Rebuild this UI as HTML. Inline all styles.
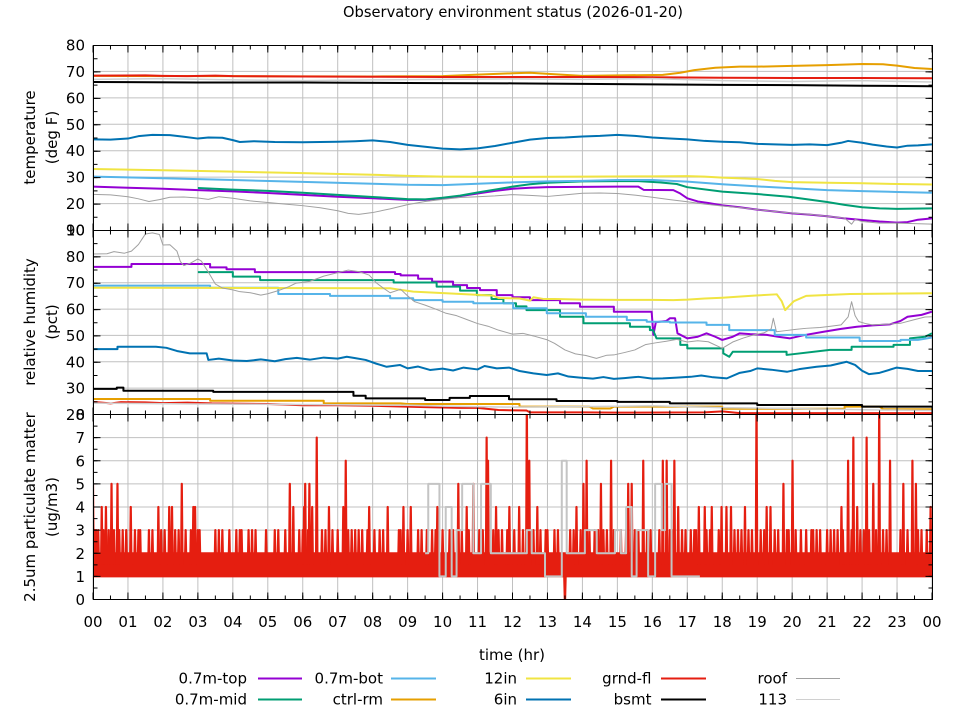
<!DOCTYPE html>
<html><head><meta charset="utf-8"><style>
html,body{margin:0;padding:0;background:#fff;}
svg{display:block;font-family:"DejaVu Sans","Liberation Sans",sans-serif;}
.d polyline,.d path,.d polygon{vector-effect:non-scaling-stroke;stroke-linejoin:round;}
.d polyline,.d path{fill:none;}
</style></head><body>
<svg width="960" height="720" viewBox="0 0 960 720" xmlns="http://www.w3.org/2000/svg">
<defs>
<clipPath id="c1"><rect x="93" y="45" width="840" height="185.5"/></clipPath>
<clipPath id="c2"><rect x="93" y="230" width="840" height="184.5"/></clipPath>
<clipPath id="c3"><rect x="93" y="414.5" width="840" height="185.5"/></clipPath>
</defs>
<rect width="960" height="720" fill="#fff"/>

<!-- grid -->
<g stroke="#c0c0c0" stroke-width="1" fill="none">
<line x1="92.5" y1="322.25" x2="933" y2="322.25" stroke-width="554.5" stroke-dasharray="1 33.9583"/>
<line x1="93" y1="71.43" x2="933" y2="71.43"/>
<line x1="93" y1="97.86" x2="933" y2="97.86"/>
<line x1="93" y1="124.29" x2="933" y2="124.29"/>
<line x1="93" y1="150.71" x2="933" y2="150.71"/>
<line x1="93" y1="177.14" x2="933" y2="177.14"/>
<line x1="93" y1="203.57" x2="933" y2="203.57"/>
<line x1="93" y1="256.36" x2="933" y2="256.36"/>
<line x1="93" y1="282.71" x2="933" y2="282.71"/>
<line x1="93" y1="309.07" x2="933" y2="309.07"/>
<line x1="93" y1="335.43" x2="933" y2="335.43"/>
<line x1="93" y1="361.79" x2="933" y2="361.79"/>
<line x1="93" y1="388.14" x2="933" y2="388.14"/>
<line x1="93" y1="437.63" x2="933" y2="437.63"/>
<line x1="93" y1="460.75" x2="933" y2="460.75"/>
<line x1="93" y1="483.88" x2="933" y2="483.88"/>
<line x1="93" y1="507" x2="933" y2="507"/>
<line x1="93" y1="530.13" x2="933" y2="530.13"/>
<line x1="93" y1="553.25" x2="933" y2="553.25"/>
<line x1="93" y1="576.38" x2="933" y2="576.38"/>
</g>

<!-- TOP PANEL: temperature -->
<g clip-path="url(#c1)">
<g class="d" transform="matrix(34.9583 0 0 -2.64286 93 256.429)" stroke-width="2">
<polyline stroke="#9400d3" points="0,26.4 1,26 2,25.6 3,25.1 4,24.6 5,24 6,23.3 7,22.6 8,22 9,21.4 9.5,21.4 10,22 10.5,22.8 11,23.8 11.5,24.8 12,25.6 12.5,26 13,26.2 14,26.3 15,26.4 15.6,26.4 15.75,25.2 16.6,25.1 16.8,23.8 17,22 17.3,20.8 17.6,20.2 18,19.3 18.5,18.6 19,17.7 19.5,17 20,16.3 20.5,15.8 21,15.2 21.5,14.4 22,13.8 22.5,13.2 23,12.8 23.3,13 23.6,13.9 24,14.4"/>
<polyline stroke="#009e73" points="3,25.9 4,25.3 5,24.8 6,24.1 7,23.3 8,22.5 9,21.7 9.5,21.6 10,22.2 10.5,23 11,24.2 11.5,25.3 12,26.4 12.5,27.3 13,27.9 14,28.4 15,28.5 15.6,28.5 16.2,28 16.7,27.4 17,26.2 18,24.5 19,23.6 19.9,22.6 20.5,21.5 21,20.6 21.5,19.5 22,18.6 22.5,18.2 23,18 24,18.2"/>
<polyline stroke="#56b4e9" points="0,30.2 2,29.6 4,28.9 6,28.2 8,27.5 9,27.1 10,27 11,27.5 12,28 13,28.4 14,28.6 15,28.9 16,28.9 17,28.3 18,27.3 19,26.5 20,25.8 21,25.1 22,24.7 23,24.4 24,24.1"/>
<polyline stroke="#e69f00" points="0,68.3 4,68.2 8,68.1 10,68.2 11,68.8 12,69.3 12.5,69.5 13.5,68.7 14,68.3 15,68.5 16.3,68.7 16.8,69.5 17.2,70.5 17.8,71.4 18.5,71.8 19,71.8 20,72.1 21,72.4 22,72.8 22.6,72.7 23,72.2 23.5,71.3 24,70.9"/>
<polyline stroke="#f0e442" points="0,33.1 2,32.6 4,32.1 6,31.5 8,30.9 9,30.5 10,30.2 12,30.1 14,30.2 16,30.3 17,30.4 17.5,30.2 18,29.8 19,29.3 19.5,28.6 20,28.1 21,27.9 22,27.7 23,27.4 24,27.2"/>
<polyline stroke="#0072b2" points="0,44.3 0.5,44.2 1,44.6 1.3,45.5 1.7,46 2.2,45.9 2.6,45.3 3,44.6 3.3,45 3.7,44.9 4,44 4.2,43.3 4.6,43.6 5.2,43.3 6,43.2 7,43.4 7.5,43.6 8,43.9 8.5,43.3 9,42.2 9.5,41.5 10,40.8 10.5,40.5 11,40.9 11.5,41.8 12,43 12.5,44.2 13,44.8 13.5,45 14,45.4 14.5,45.6 15,46 15.5,45.6 16,45 16.5,44.6 17,44.3 17.5,43.7 18,43.4 18.5,43.2 19,42.6 19.5,42.4 20,42.2 20.5,42.4 21,42.1 21.4,43 21.6,43.7 22,43 22.3,42.3 22.7,41.6 23,41.2 23.3,41.9 23.6,42 24,42.4"/>
<polyline stroke="#e51e10" points="0,68.4 1.5,68.5 2,68.3 2.7,68.2 3.5,68.4 4,68.2 6,68.1 8,68 10,67.9 12,67.9 14,67.9 16,67.8 18,67.6 20,67.5 22,67.5 24,67.4"/>
<polyline stroke="#000" points="0,66 3,65.8 6,65.8 9,65.6 12,65.5 15,65.2 17,65 18,64.9 20,64.8 22,64.6 24,64.4"/>
<polyline stroke="#a0a0a0" stroke-width="1" points="0,23.5 0.5,23.3 1,22.6 1.3,21.8 1.6,20.8 1.9,21.5 2.2,22.4 2.6,22.5 3,22.1 3.3,21.6 3.6,22.6 4,22 4.5,21 5,20.4 5.5,19.8 6,19.2 6.5,18.4 7,17.3 7.3,16.3 7.6,15.9 8,16.6 8.5,18 9,19.6 9.5,20.8 10,21.6 10.5,22.3 11,22.6 11.5,22.9 12,23.4 12.5,23.1 13,22.7 13.5,23.3 14,23.9 14.5,24 15,23.8 15.5,23.2 16,22.4 16.5,21.5 17,20.7 17.5,19.8 18,19.1 18.5,18.5 19,17.7 19.5,17 20,16.4 20.5,15.9 21,15.2 21.5,14.5 21.7,12.2 21.8,14 22,13.2 22.5,12.6 23,12.6 23.5,12.4 24,12.2"/>
<polyline stroke="#d0d0d0" stroke-width="1.5" points="0,67 2,67.3 4,66.8 6,66.5 8,66.8 10,67 12,67.2 14,67 16,67.3 18,66.5 20,66.2 22,66.5 24,66"/>
</g>
</g>

<!-- MIDDLE PANEL: humidity -->
<g clip-path="url(#c2)">
<g class="d" transform="matrix(34.9583 0 0 -2.63571 93 467.214)" stroke-width="2">
<polyline stroke="#9400d3" points="0,76 1.1,76 1.1,77.1 3.35,77.1 3.35,75.8 3.82,75.8 3.82,75.1 4.63,75.1 4.63,74 8.64,74 8.64,73.3 8.8,73.3 8.8,72.8 9.3,72.8 9.3,71.5 9.7,71.5 9.7,70.4 10.3,70.4 10.3,69.1 10.7,69.1 10.7,68 11.07,68 11.07,67.2 11.55,67.2 11.55,65.3 12,65.3 12,64.5 12.5,64.5 12.5,63.4 13.36,63.4 13.36,62.2 13.93,62.2 13.93,60.9 14.9,60.9 14.9,59 15.98,59 16.03,50.2 16.1,55 16.4,55.5 16.5,56.5 16.65,56.5 16.72,50.8 17,48.9 17.3,49.5 17.55,50.8 17.8,49.5 18,48.3 18.3,49.5 18.5,50.8 18.8,50.5 19.27,50.2 19.6,49.5 19.94,48.9 20.3,50 20.9,51.4 21.4,52.5 21.85,53.3 22.3,53.8 22.8,54.2 23.1,55.5 23.3,57.1 23.7,57.8 24,59"/>
<polyline stroke="#009e73" points="3,74 4,74 4,72.3 4.78,72.3 4.78,71 8.6,71 8.6,70.1 9.83,70.1 9.83,68.5 10.5,68.5 10.5,67 10.98,67 10.98,65.3 11.4,65.3 11.4,63.8 11.74,63.8 11.74,62.2 12.1,62.2 12.1,61 12.4,61 12.4,59.6 13.36,59.6 13.36,57.1 14.03,57.1 14.03,54.6 15.36,54.6 15.36,53.3 15.93,53.3 15.93,52 16.02,52 16.12,48.9 16.8,48.9 16.8,46.4 17,46.4 17,45.1 18.03,45.1 18.03,43.2 18.2,41.9 18.3,43.8 19.84,43.8 19.84,42.6 21.08,44.5 21.7,44.5 21.7,45.7 22.9,45.7 22.9,46.4 23.37,46.4 23.37,48.9 23.8,49.5 24,50.8"/>
<polyline stroke="#56b4e9" points="0,68.9 3.35,68.9 3.35,68.1 5.3,68.1 5.3,65.7 6.78,65.7 6.78,65 8.5,65 8.5,64.1 9.16,64.1 9.16,63.4 10,63.4 10,62.8 10.88,62.8 10.88,62.2 12.02,62.2 12.02,60.3 12.98,60.3 12.98,58.4 14.1,58.4 14.1,57.1 15.27,57.1 15.27,55.8 15.84,55.8 15.84,55.2 16.5,55.2 16.5,54.9 17.55,54.9 17.55,54 18.2,54 18.2,52 19.5,52 19.5,50.2 20.4,50.2 20.4,49.2 21.93,49.2 21.93,47.9 23.1,47.9 23.1,48.3 23.6,48.3 24,49.2"/>
<polyline stroke="#e69f00" points="0,25.9 3.35,25.9 3.35,25.2 6.6,25.2 6.6,24.2 8.8,24.2 9,24 12.2,24 12.2,23 14.2,23 14.3,22.3 14.8,22.3 14.9,23 18,23 18,22.2 21.5,22.2 21.5,23 22.5,23 22.6,22 24,22"/>
<polyline stroke="#f0e442" points="0,68.1 8.5,67.9 8.7,67.5 9.16,66.6 10.1,66 11.45,65.1 11.6,64.2 12.2,64 12.5,63.2 12.6,64.5 12.9,63.8 13.2,63.8 14,63.6 15,63.5 16,63.5 16.6,63.4 17,63.6 17.5,64 18,64.3 18.9,65.1 19.56,65.6 19.7,63 19.8,59.6 19.9,61 20.05,63 20.4,65 21.66,65.7 24,66"/>
<polyline stroke="#0072b2" points="0,44.8 0.7,44.8 0.7,45.7 1.8,45.7 2.1,45.3 2.4,44.1 2.77,43.2 3.25,43.2 3.3,40.7 3.6,41.2 4,40.5 4.4,40.3 4.8,40.9 5.2,40.2 5.5,41 5.83,41.5 6.2,40.8 6.6,41.6 7,41.2 7.26,41.9 7.5,41.4 7.8,40.7 8.1,39.3 8.4,38.1 8.78,38.8 9,37.5 9.3,38.2 9.64,36.9 10,37.4 10.3,36.7 10.6,37.8 11,37.1 11.2,38.4 11.55,37.5 11.9,37.8 12.2,36.5 12.6,35.6 12.98,35 13.3,35.6 13.6,34.4 13.93,34 14.3,33.6 14.6,34.2 14.9,33.5 15.2,33.8 15.6,34.3 16,33.6 16.3,33.7 16.7,34 17.1,34.3 17.4,34.8 17.7,34.2 18.13,33.7 18.5,35.8 18.8,36.5 19,37.5 19.4,37 19.85,36.2 20.2,37.2 20.7,38.1 21.1,38.6 21.56,40 21.8,38.8 22,36.6 22.2,35.3 22.5,35.8 22.99,37.8 23.3,37.3 23.6,36.5 24,36.5"/>
<polyline stroke="#e51e10" points="0,24.8 0.5,24.2 0.8,24.7 1.5,24.6 2,24.3 2.7,24.5 3.4,24.2 5,24 6,23.5 7,23.5 8,23.3 9.5,22.8 10.5,22.5 11,22.5 11.6,21.7 12.4,21.5 12.5,20.8 14,20.8 15,20.7 17.5,20.8 18,21.2 18.5,20.5 24,20.5"/>
<polyline stroke="#000" points="0,29.7 0.68,29.7 0.68,30.2 0.87,30.2 0.87,29 3.44,29 3.44,28.6 7.45,28.6 7.45,27.1 7.8,27.1 7.8,26.1 9.5,26.1 9.5,25.5 10.2,25.5 10.2,26.3 10.78,26.3 10.78,27 11.9,27 11.9,25.8 13.26,25.8 13.26,25.1 15,25.1 15,24.8 16.5,24.8 16.5,24.2 19,24.2 19,23.6 22,23.6 22,23 24,23"/>
<polyline stroke="#a0a0a0" stroke-width="1" points="0,80.9 0.4,81 0.6,81.8 0.9,81.2 1.1,82 1.3,84.5 1.5,88.5 1.7,88.9 1.9,88.3 2,84.3 2.2,84.4 2.4,82 2.5,78 2.6,76.5 2.8,77.5 3,79 3.1,78.2 3.3,74 3.5,69.5 3.7,68 4,67.3 4.2,66.6 4.5,66.2 4.8,65.3 5,65.8 5.3,67 5.6,68.5 5.8,69.8 6.2,70.5 6.6,72.5 7,73.8 7.3,74.8 7.6,74.2 7.9,72.9 8.1,70 8.3,68 8.5,66.2 8.8,67.5 9,65 9.2,62.8 9.5,61.5 9.8,60 10.1,58.4 10.4,57.5 10.7,56 11,54.5 11.3,53.5 11.6,52 12,50.5 12.3,50.8 12.6,49.8 13,48.3 13.2,47 13.5,44.5 13.8,43 14.1,42.4 14.4,41.3 14.7,42.5 14.9,42.6 15.2,43.5 15.5,44.5 15.8,46.5 16.1,47.2 16.4,47.8 16.7,48.5 17,47.5 17.3,48 17.6,47.6 18,45.1 18.3,47.5 18.6,49 18.9,50.2 19.2,51 19.4,52.5 19.46,56.5 19.55,51.4 19.8,51.8 20.1,52.3 20.4,52.7 20.8,53 21.1,53.5 21.4,54 21.6,57 21.7,62.8 21.8,57.5 21.9,55.3 22.1,54.5 22.3,54 22.6,54.2 23.1,54.6 23.5,56 23.8,57 24,57.1"/>
<polyline stroke="#d0d0d0" stroke-width="1.5" points="0,24.3 3,24 6,23.8 9,23.5 10,23.2 12,22.8 14,23 16,23.3 18,22.6 20,22.3 22,21.8 24,21.5"/>
</g>
</g>

<!-- BOTTOM PANEL: PM2.5 -->
<g clip-path="url(#c3)">
<g class="d" transform="matrix(34.9583 0 0 -23.125 93 599.5)">
<polygon fill="#e51e10" stroke="#e51e10" stroke-width="2" points="0,1 24,1 24,2 0,2"/>
<path stroke="#e51e10" stroke-width="2.2" d="M0.03 1.5L0.05 3L0.07 1.5M0.13 1.5L0.15 3L0.17 1.5M0.28 1.5L0.3 3L0.32 1.5M0.43 1.5L0.45 3L0.47 1.5M0.58 1.5L0.6 3L0.62 1.5M0.73 1.5L0.75 3L0.77 1.5M0.83 1.5L0.85 3L0.87 1.5M0.93 1.5L0.95 3L0.97 1.5M1.18 1.5L1.2 3L1.22 1.5M1.28 1.5L1.3 3L1.32 1.5M1.33 1.5L1.35 3L1.37 1.5M1.58 1.5L1.6 3L1.62 1.5M1.68 1.5L1.7 3L1.72 1.5M1.93 1.5L1.95 3L1.97 1.5M2.03 1.5L2.05 3L2.07 1.5M2.33 1.5L2.35 3L2.37 1.5M2.43 1.5L2.45 3L2.47 1.5M2.63 1.5L2.65 3L2.67 1.5M2.78 1.5L2.8 3L2.82 1.5M2.98 1.5L3 3L3.02 1.5M3.03 1.5L3.05 3L3.07 1.5M3.48 1.5L3.5 3L3.52 1.5M3.58 1.5L3.6 3L3.62 1.5M3.68 1.5L3.7 3L3.72 1.5M3.88 1.5L3.9 3L3.92 1.5M4.08 1.5L4.1 3L4.12 1.5M4.18 1.5L4.2 3L4.22 1.5M4.23 1.5L4.25 3L4.27 1.5M4.43 1.5L4.45 3L4.47 1.5M4.53 1.5L4.55 3L4.57 1.5M4.63 1.5L4.65 3L4.67 1.5M4.93 1.5L4.95 3L4.97 1.5M5.18 1.5L5.2 3L5.22 1.5M5.28 1.5L5.3 3L5.32 1.5M5.48 1.5L5.5 3L5.52 1.5M5.88 1.5L5.9 3L5.92 1.5M5.98 1.5L6 3L6.02 1.5M6.13 1.5L6.15 3L6.17 1.5M6.53 1.5L6.55 3L6.57 1.5M6.63 1.5L6.65 3L6.67 1.5M6.83 1.5L6.85 3L6.87 1.5M6.98 1.5L7 3L7.02 1.5M7.28 1.5L7.3 3L7.32 1.5M7.38 1.5L7.4 3L7.42 1.5M7.48 1.5L7.5 3L7.52 1.5M7.58 1.5L7.6 3L7.62 1.5M7.68 1.5L7.7 3L7.72 1.5M7.83 1.5L7.85 3L7.87 1.5M8.03 1.5L8.05 3L8.07 1.5M8.18 1.5L8.2 3L8.22 1.5M8.28 1.5L8.3 3L8.32 1.5M8.73 1.5L8.75 3L8.77 1.5M8.78 1.5L8.8 3L8.82 1.5M8.98 1.5L9 3L9.02 1.5M9.28 1.5L9.3 3L9.32 1.5M9.38 1.5L9.4 3L9.42 1.5M9.53 1.5L9.55 3L9.57 1.5M9.68 1.5L9.7 3L9.72 1.5M9.78 1.5L9.8 3L9.82 1.5M9.98 1.5L10 3L10.02 1.5M10.18 1.5L10.2 3L10.22 1.5M10.28 1.5L10.3 3L10.32 1.5M10.53 1.5L10.55 3L10.57 1.5M10.73 1.5L10.75 3L10.77 1.5M11.03 1.5L11.05 3L11.07 1.5M11.13 1.5L11.15 3L11.17 1.5M11.43 1.5L11.45 3L11.47 1.5M11.58 1.5L11.6 3L11.62 1.5M11.68 1.5L11.7 3L11.72 1.5M11.83 1.5L11.85 3L11.87 1.5M12.03 1.5L12.05 3L12.07 1.5M12.28 1.5L12.3 3L12.32 1.5M12.58 1.5L12.6 3L12.62 1.5M12.78 1.5L12.8 3L12.82 1.5M12.93 1.5L12.95 3L12.97 1.5M12.98 1.5L13 3L13.02 1.5M13.18 1.5L13.2 3L13.22 1.5M13.28 1.5L13.3 3L13.32 1.5M13.63 1.5L13.65 3L13.67 1.5M13.73 1.5L13.75 3L13.77 1.5M13.93 1.5L13.95 3L13.97 1.5M14.18 1.5L14.2 3L14.22 1.5M14.33 1.5L14.35 3L14.37 1.5M14.43 1.5L14.45 3L14.47 1.5M14.58 1.5L14.6 3L14.62 1.5M14.68 1.5L14.7 3L14.72 1.5M14.88 1.5L14.9 3L14.92 1.5M15.08 1.5L15.1 3L15.12 1.5M15.23 1.5L15.25 3L15.27 1.5M15.48 1.5L15.5 3L15.52 1.5M15.58 1.5L15.6 3L15.62 1.5M15.83 1.5L15.85 3L15.87 1.5M15.93 1.5L15.95 3L15.97 1.5M16.18 1.5L16.2 3L16.22 1.5M16.48 1.5L16.5 3L16.52 1.5M16.58 1.5L16.6 3L16.62 1.5M16.83 1.5L16.85 3L16.87 1.5M16.93 1.5L16.95 3L16.97 1.5M17.08 1.5L17.1 3L17.12 1.5M17.18 1.5L17.2 3L17.22 1.5M17.23 1.5L17.25 3L17.27 1.5M17.53 1.5L17.55 3L17.57 1.5M17.63 1.5L17.65 3L17.67 1.5M17.88 1.5L17.9 3L17.92 1.5M18.33 1.5L18.35 3L18.37 1.5M18.43 1.5L18.45 3L18.47 1.5M18.53 1.5L18.55 3L18.57 1.5M18.73 1.5L18.75 3L18.77 1.5M18.83 1.5L18.85 3L18.87 1.5M19.08 1.5L19.1 3L19.12 1.5M19.18 1.5L19.2 3L19.22 1.5M19.48 1.5L19.5 3L19.52 1.5M19.58 1.5L19.6 3L19.62 1.5M19.83 1.5L19.85 3L19.87 1.5M19.88 1.5L19.9 3L19.92 1.5M20.08 1.5L20.1 3L20.12 1.5M20.23 1.5L20.25 3L20.27 1.5M20.38 1.5L20.4 3L20.42 1.5M20.53 1.5L20.55 3L20.57 1.5M20.58 1.5L20.6 3L20.62 1.5M20.68 1.5L20.7 3L20.72 1.5M20.78 1.5L20.8 3L20.82 1.5M20.98 1.5L21 3L21.02 1.5M21.08 1.5L21.1 3L21.12 1.5M21.18 1.5L21.2 3L21.22 1.5M21.28 1.5L21.3 3L21.32 1.5M21.43 1.5L21.45 3L21.47 1.5M21.68 1.5L21.7 3L21.72 1.5M21.93 1.5L21.95 3L21.97 1.5M22.03 1.5L22.05 3L22.07 1.5M22.18 1.5L22.2 3L22.22 1.5M22.38 1.5L22.4 3L22.42 1.5M22.58 1.5L22.6 3L22.62 1.5M22.68 1.5L22.7 3L22.72 1.5M23.08 1.5L23.1 3L23.12 1.5M23.28 1.5L23.3 3L23.32 1.5M23.58 1.5L23.6 3L23.62 1.5M23.68 1.5L23.7 3L23.72 1.5M23.83 1.5L23.85 3L23.87 1.5"/>
<path stroke="#e51e10" stroke-width="2.2" d="M0 1.5L0 5L0.02 1.5M0.07 1.5L0.09 3L0.11 1.5M0.23 1.5L0.25 4L0.27 1.5M0.35 1.5L0.37 4L0.39 1.5M0.51 1.5L0.53 5L0.55 1.5M0.68 1.5L0.7 5L0.72 1.5M1.06 1.5L1.08 4L1.1 1.5M1.85 1.5L1.87 4L1.89 1.5M2.16 1.5L2.18 4L2.2 1.5M2.24 1.5L2.26 4L2.28 1.5M2.52 1.5L2.54 5L2.56 1.5M2.85 1.5L2.87 4L2.89 1.5M2.9 1.5L2.92 4L2.94 1.5M5.61 1.5L5.63 5L5.65 1.5M5.71 1.5L5.73 4L5.75 1.5M6.02 1.5L6.04 4L6.06 1.5M6.05 1.5L6.07 5L6.09 1.5M6.17 1.5L6.19 5L6.21 1.5M6.25 1.5L6.27 4L6.29 1.5M6.38 1.5L6.4 7L6.42 1.5M6.73 1.5L6.75 4L6.77 1.5M7.14 1.5L7.16 4L7.18 1.5M7.21 1.5L7.23 6L7.25 1.5M7.88 1.5L7.9 4L7.92 1.5M8.41 1.5L8.43 4L8.45 1.5M8.86 1.5L8.88 4L8.9 1.5M9.07 1.5L9.09 4L9.11 1.5M9.83 1.5L9.85 4L9.87 1.5M10.43 1.5L10.45 5L10.47 1.5M10.67 1.5L10.69 4L10.71 1.5M10.86 1.5L10.88 5L10.9 1.5M11.24 1.5L11.26 7L11.28 1.5M11.28 1.5L11.3 6L11.32 1.5M11.51 1.5L11.53 4L11.55 1.5M11.89 1.5L11.91 4L11.93 1.5M12.17 1.5L12.19 4L12.21 1.5M12.39 1.5L12.41 8.6L12.43 1.5M12.46 1.5L12.48 6L12.5 1.5M12.69 1.5L12.71 4L12.73 1.5M13.48 1L13.5 -0.2L13.52 1M13.81 1.5L13.83 4L13.85 1.5M14.01 1.5L14.03 5L14.05 1.5M14.1 1.5L14.12 6L14.14 1.5M14.51 1.5L14.53 5L14.55 1.5M14.8 1.5L14.82 6L14.84 1.5M15.29 1.5L15.31 5L15.33 1.5M15.39 1.5L15.41 5L15.43 1.5M15.72 1.5L15.74 6L15.76 1.5M16.28 1.5L16.3 6L16.32 1.5M16.39 1.5L16.41 6L16.43 1.5M16.61 1.5L16.63 6L16.65 1.5M16.72 1.5L16.74 4L16.76 1.5M17.31 1.5L17.33 4L17.35 1.5M17.48 1.5L17.5 4L17.52 1.5M17.68 1.5L17.7 4L17.72 1.5M17.96 1.5L17.98 4L18 1.5M18.1 1.5L18.12 4L18.14 1.5M18.23 1.5L18.25 4L18.27 1.5M18.63 1.5L18.65 4L18.67 1.5M18.96 1.5L18.98 8.6L19 1.5M19.25 1.5L19.27 4L19.29 1.5M19.36 1.5L19.38 4L19.4 1.5M19.73 1.5L19.75 5L19.77 1.5M19.99 1.5L20.01 6L20.03 1.5M21.39 1.5L21.41 4L21.43 1.5M21.58 1.5L21.6 6L21.62 1.5M21.73 1.5L21.75 7L21.77 1.5M21.84 1.5L21.86 4L21.88 1.5M22.11 1.5L22.13 7L22.15 1.5M22.3 1.5L22.32 5L22.34 1.5M22.47 1.5L22.49 8.6L22.51 1.5M22.78 1.5L22.8 6L22.82 1.5M23.16 1.5L23.18 5L23.2 1.5M23.42 1.5L23.44 6L23.46 1.5M23.52 1.5L23.54 5L23.56 1.5M23.94 1.5L23.96 4L23.98 1.5"/>
<polyline stroke="#c4c4c4" stroke-width="2" points="9.5,2 9.59,2 9.59,5 9.91,5 9.91,1 10.09,1 10.09,4 10.26,4 10.26,1 10.4,1 10.4,3 10.56,3 10.56,5 10.88,5 10.88,2 11.1,2 11.1,5 11.38,5 11.38,2 12.41,2 12.41,3 12.55,3 12.55,2 12.93,2 12.93,1 13.41,1 13.41,6 13.55,6 13.55,2 14.07,2 14.07,3 14.41,3 14.41,2 14.93,2 14.93,3 15.1,3 15.1,2 15.25,2 15.25,4 15.41,4 15.41,1 15.55,1 15.55,3 15.88,3 15.88,1 16.08,1 16.08,5 16.27,5 16.27,3 16.36,3 16.36,5 16.55,5 16.55,1 17.36,1"/>
</g>
</g>

<!-- frame -->
<g stroke="#000" stroke-width="1" fill="none">
<rect x="93.5" y="45.5" width="839" height="554"/>
<line x1="93" y1="230.5" x2="933" y2="230.5"/>
<line x1="93" y1="414.5" x2="933" y2="414.5"/>
</g>

<!-- ticks -->
<g stroke="#000" fill="none">
<line x1="92.5" y1="49" x2="933.5" y2="49" stroke-width="7" stroke-dasharray="1 33.9583"/>
<line x1="92.5" y1="47.5" x2="933.5" y2="47.5" stroke-width="4" stroke-dasharray="1 16.4792"/>
<line x1="92.5" y1="230.5" x2="933.5" y2="230.5" stroke-width="14" stroke-dasharray="1 33.9583"/>
<line x1="92.5" y1="230.5" x2="933.5" y2="230.5" stroke-width="8" stroke-dasharray="1 16.4792"/>
<line x1="92.5" y1="414.5" x2="933.5" y2="414.5" stroke-width="14" stroke-dasharray="1 33.9583"/>
<line x1="92.5" y1="414.5" x2="933.5" y2="414.5" stroke-width="8" stroke-dasharray="1 16.4792"/>
<line x1="92.5" y1="596" x2="933.5" y2="596" stroke-width="7" stroke-dasharray="1 33.9583"/>
<line x1="92.5" y1="597.5" x2="933.5" y2="597.5" stroke-width="4" stroke-dasharray="1 16.4792"/>
<line x1="97" y1="45" x2="97" y2="231" stroke-width="7" stroke-dasharray="1 25.4286"/>
<line x1="95.5" y1="45" x2="95.5" y2="231" stroke-width="4" stroke-dasharray="1 12.2143"/>
<line x1="929" y1="45" x2="929" y2="231" stroke-width="7" stroke-dasharray="1 25.4286"/>
<line x1="930.5" y1="45" x2="930.5" y2="231" stroke-width="4" stroke-dasharray="1 12.2143"/>
<line x1="97" y1="230" x2="97" y2="415" stroke-width="7" stroke-dasharray="1 25.3571"/>
<line x1="95.5" y1="230" x2="95.5" y2="415" stroke-width="4" stroke-dasharray="1 12.1786"/>
<line x1="929" y1="230" x2="929" y2="415" stroke-width="7" stroke-dasharray="1 25.3571"/>
<line x1="930.5" y1="230" x2="930.5" y2="415" stroke-width="4" stroke-dasharray="1 12.1786"/>
<line x1="97" y1="414" x2="97" y2="600" stroke-width="7" stroke-dasharray="1 22.125"/>
<line x1="95.5" y1="414" x2="95.5" y2="600" stroke-width="4" stroke-dasharray="1 10.5625"/>
<line x1="929" y1="414" x2="929" y2="600" stroke-width="7" stroke-dasharray="1 22.125"/>
<line x1="930.5" y1="414" x2="930.5" y2="600" stroke-width="4" stroke-dasharray="1 10.5625"/>
</g>

<!-- title -->
<text x="513" y="17" font-size="15" text-anchor="middle" fill="#000" textLength="340" lengthAdjust="spacingAndGlyphs">Observatory environment status (2026-01-20)</text>

<!-- y tick labels -->
<g font-size="15" text-anchor="end" fill="#000">
<text x="85" y="50.5">80</text>
<text x="85" y="77">70</text>
<text x="85" y="103.4">60</text>
<text x="85" y="129.8">50</text>
<text x="85" y="156.2">40</text>
<text x="85" y="182.6">30</text>
<text x="85" y="209.1">20</text>
<text x="85" y="235.5">10</text>
<text x="85" y="235.5">90</text>
<text x="85" y="261.9">80</text>
<text x="85" y="288.2">70</text>
<text x="85" y="314.6">60</text>
<text x="85" y="340.9">50</text>
<text x="85" y="367.3">40</text>
<text x="85" y="393.6">30</text>
<text x="85" y="420">20</text>
<text x="85" y="420">8</text>
<text x="85" y="443.1">7</text>
<text x="85" y="466.3">6</text>
<text x="85" y="489.4">5</text>
<text x="85" y="512.5">4</text>
<text x="85" y="535.6">3</text>
<text x="85" y="558.8">2</text>
<text x="85" y="581.9">1</text>
<text x="85" y="605">0</text>
</g>

<!-- x tick labels -->
<g font-size="15" text-anchor="middle" fill="#000">
<text x="93" y="627">00</text>
<text x="127.96" y="627">01</text>
<text x="162.92" y="627">02</text>
<text x="197.87" y="627">03</text>
<text x="232.83" y="627">04</text>
<text x="267.79" y="627">05</text>
<text x="302.75" y="627">06</text>
<text x="337.71" y="627">07</text>
<text x="372.67" y="627">08</text>
<text x="407.62" y="627">09</text>
<text x="442.58" y="627">10</text>
<text x="477.54" y="627">11</text>
<text x="512.5" y="627">12</text>
<text x="547.46" y="627">13</text>
<text x="582.42" y="627">14</text>
<text x="617.37" y="627">15</text>
<text x="652.33" y="627">16</text>
<text x="687.29" y="627">17</text>
<text x="722.25" y="627">18</text>
<text x="757.21" y="627">19</text>
<text x="792.17" y="627">20</text>
<text x="827.12" y="627">21</text>
<text x="862.08" y="627">22</text>
<text x="897.04" y="627">23</text>
<text x="932" y="627">00</text>
</g>

<!-- axis titles -->
<g font-size="15" text-anchor="middle" fill="#000">
<text transform="translate(30,137.5) rotate(-90)" x="0" y="5">temperature</text>
<text transform="translate(52,137.5) rotate(-90)" x="0" y="5">(deg F)</text>
<text transform="translate(30,322) rotate(-90)" x="0" y="5">relative humidity</text>
<text transform="translate(52,322) rotate(-90)" x="0" y="5">(pct)</text>
<text transform="translate(30,507) rotate(-90)" x="0" y="5">2.5um particulate matter</text>
<text transform="translate(52,507) rotate(-90)" x="0" y="5">(ug/m3)</text>
<text x="512" y="660">time (hr)</text>
</g>

<!-- legend -->
<g font-size="15" text-anchor="end" fill="#000">
<text x="247" y="683.5">0.7m-top</text>
<text x="247" y="704.5">0.7m-mid</text>
<text x="383" y="683.5">0.7m-bot</text>
<text x="383" y="704.5">ctrl-rm</text>
<text x="517" y="683.5">12in</text>
<text x="517" y="704.5">6in</text>
<text x="651.5" y="683.5">grnd-fl</text>
<text x="651.5" y="704.5">bsmt</text>
<text x="787" y="683.5">roof</text>
<text x="787" y="704.5">113</text>
</g>
<g stroke-width="2">
<line x1="258" y1="678.5" x2="302" y2="678.5" stroke="#9400d3"/>
<line x1="258" y1="699.5" x2="302" y2="699.5" stroke="#009e73"/>
<line x1="391" y1="678.5" x2="436" y2="678.5" stroke="#56b4e9"/>
<line x1="391" y1="699.5" x2="436" y2="699.5" stroke="#e69f00"/>
<line x1="526" y1="678.5" x2="571" y2="678.5" stroke="#f0e442"/>
<line x1="526" y1="699.5" x2="571" y2="699.5" stroke="#0072b2"/>
<line x1="661" y1="678.5" x2="706" y2="678.5" stroke="#e51e10"/>
<line x1="661" y1="699.5" x2="706" y2="699.5" stroke="#000"/>
<line x1="796" y1="678.5" x2="840" y2="678.5" stroke="#a0a0a0" stroke-width="1"/>
<line x1="796" y1="699.5" x2="840" y2="699.5" stroke="#d0d0d0" stroke-width="1"/>
</g>
</svg>
</body></html>
